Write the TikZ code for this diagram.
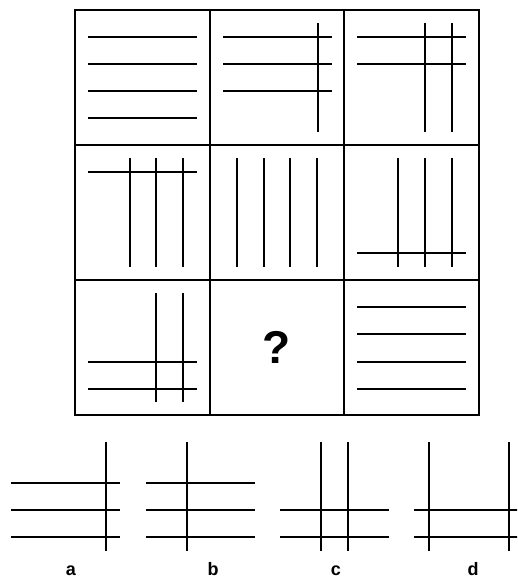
\documentclass[tikz,border=0pt]{standalone}
\usepackage{fontspec}
\setmainfont{Liberation Sans}
\begin{document}
\begin{tikzpicture}[x=1pt,y=-1pt,
  frame/.style={line width=2pt},
  ln/.style={line width=2pt},
  qmark/.style={font=\fontsize{46}{46}\selectfont\bfseries},
  optlabel/.style={font=\fontsize{18}{18}\selectfont\bfseries,anchor=base,inner sep=0pt}]
\useasboundingbox (0,0) rectangle (517,578);
\clip (0,0) rectangle (517,578);
% grid
\draw[frame] (75,10) rectangle (479,415);
\draw[frame] (210,10) -- (210,415);
\draw[frame] (344,10) -- (344,415);
\draw[frame] (75,145) -- (479,145);
\draw[frame] (75,280) -- (479,280);
% row 1
\begin{scope}[shift={(75,10)}]
  \foreach \y in {27,54,81,108} \draw[ln] (13,\y) -- (122,\y);
\end{scope}
\begin{scope}[shift={(210,10)}]
  \foreach \y in {27,54,81} \draw[ln] (13,\y) -- (122,\y);
  \foreach \x in {108} \draw[ln] (\x,13) -- (\x,122);
\end{scope}
\begin{scope}[shift={(344,10)}]
  \foreach \y in {27,54} \draw[ln] (13,\y) -- (122,\y);
  \foreach \x in {81,108} \draw[ln] (\x,13) -- (\x,122);
\end{scope}
% row 2
\begin{scope}[shift={(75,145)}]
  \foreach \y in {27} \draw[ln] (13,\y) -- (122,\y);
  \foreach \x in {55,81,108} \draw[ln] (\x,13) -- (\x,122);
\end{scope}
\begin{scope}[shift={(210,145)}]
  \foreach \x in {27,54,80,107} \draw[ln] (\x,13) -- (\x,122);
\end{scope}
\begin{scope}[shift={(344,145)}]
  \foreach \y in {108} \draw[ln] (13,\y) -- (122,\y);
  \foreach \x in {54,81,108} \draw[ln] (\x,13) -- (\x,122);
\end{scope}
% row 3
\begin{scope}[shift={(75,280)}]
  \foreach \y in {82,109} \draw[ln] (13,\y) -- (122,\y);
  \foreach \x in {81,108} \draw[ln] (\x,13) -- (\x,122);
\end{scope}
\node[qmark] (q) at (276.5,347) {?};
\begin{scope}[shift={(344,280)}]
  \foreach \y in {27,54,82,109} \draw[ln] (13,\y) -- (122,\y);
\end{scope}
% options
\begin{scope}[shift={(-2,429)}]
  \foreach \y in {54,81,108} \draw[ln] (13,\y) -- (122,\y);
  \foreach \x in {108} \draw[ln] (\x,13) -- (\x,122);
\end{scope}
\begin{scope}[shift={(133,429)}]
  \foreach \y in {54,81,108} \draw[ln] (13,\y) -- (122,\y);
  \foreach \x in {54} \draw[ln] (\x,13) -- (\x,122);
\end{scope}
\begin{scope}[shift={(267,429)}]
  \foreach \y in {81,108} \draw[ln] (13,\y) -- (122,\y);
  \foreach \x in {54,81} \draw[ln] (\x,13) -- (\x,122);
\end{scope}
\begin{scope}[shift={(401,429)}]
  \foreach \y in {81,108} \draw[ln] (13,\y) -- (122,\y);
  \foreach \x in {28,108} \draw[ln] (\x,13) -- (\x,122);
\end{scope}
\node[optlabel] (la) at (71,575.5) {a};
\node[optlabel] (lb) at (213,575.5) {b};
\node[optlabel] (lc) at (336,575.5) {c};
\node[optlabel] (ld) at (473,575.5) {d};
\end{tikzpicture}
\end{document}
